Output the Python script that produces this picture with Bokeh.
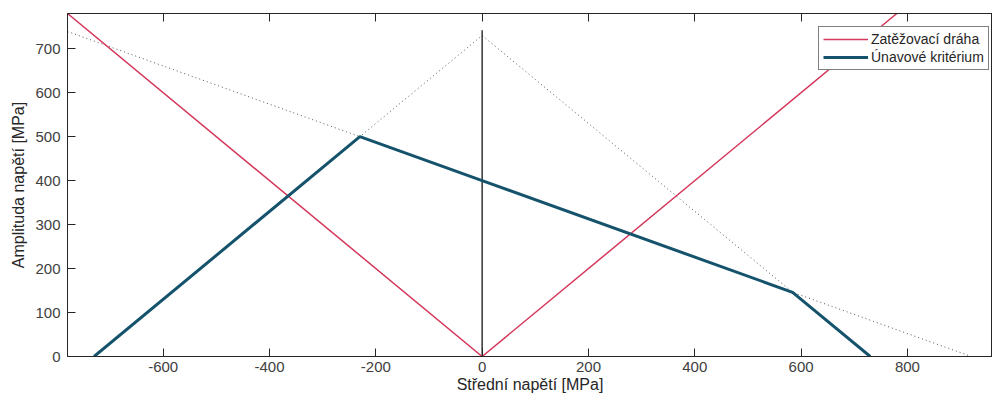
from bokeh.plotting import figure
from bokeh.models import Range1d, LinearAxis, Legend, LegendItem, FixedTicker, CustomJSTickFormatter
from bokeh.embed import file_html
from bokeh.resources import INLINE

# Data
load_x = [-780, 0, 780]
load_y = [780, 0, 780]
crit_x = [-730, -230, 0, 584, 730]
crit_y = [0, 500, 400, 146, 0]
goodman_x = [-780, 920]
goodman_y = [739, 0]
yield_x = [-730, 0, 730]
yield_y = [0, 730, 0]
vert_x = [0, 0]
vert_y = [0, 742]
x_ticks = [-600, -400, -200, 0, 200, 400, 600, 800]
y_ticks = [0, 100, 200, 300, 400, 500, 600, 700]

FONT = "Liberation Sans"
RED = "#d4385c"
BLUE = "#14536b"
p = figure(width=992, height=403, output_backend="svg", toolbar_location=None,
           x_range=Range1d(-780, 960), y_range=Range1d(0, 780),
           min_border_left=67, min_border_right=0, min_border_top=13, min_border_bottom=47)
p.xgrid.visible = False
p.ygrid.visible = False
p.outline_line_color = "#262626"
p.outline_line_width = 1
p.background_fill_color = "white"
p.border_fill_color = "white"

for ax, ticks in ((p.xaxis[0], x_ticks), (p.yaxis[0], y_ticks)):
    ax.ticker = FixedTicker(ticks=ticks)
    ax.formatter = CustomJSTickFormatter(code="return tick.toString()")
    ax.major_tick_in = 8
    ax.major_tick_out = 0
    ax.minor_tick_line_color = None
    ax.axis_line_color = "#262626"
    ax.major_tick_line_color = "#262626"
    ax.major_label_text_font = FONT
    ax.major_label_text_font_size = "15px"
    ax.major_label_text_color = "#404040"
    ax.axis_label_text_font = FONT
    ax.axis_label_text_font_size = "16px"
    ax.axis_label_text_font_style = "normal"
    ax.axis_label_text_color = "#262626"

p.xaxis[0].axis_label = "Střední napětí [MPa]"
p.xaxis[0].axis_label_standoff = 1
p.xaxis[0].major_label_standoff = 5
p.yaxis[0].axis_label = "Amplituda napětí [MPa]"
p.yaxis[0].axis_label_standoff = 5
p.yaxis[0].major_label_standoff = 7

top = LinearAxis(ticker=FixedTicker(ticks=x_ticks), major_tick_in=8, major_tick_out=0,
                 minor_tick_line_color=None, axis_line_color="#262626",
                 major_tick_line_color="#262626", major_label_text_font_size="0px",
                 major_label_standoff=0,
                 formatter=CustomJSTickFormatter(code="return ''"))
p.add_layout(top, "above")

p.line(goodman_x, goodman_y, line_color="#555555", line_width=1, line_dash="1 3")
p.line(yield_x, yield_y, line_color="#555555", line_width=1, line_dash="1 3")
p.line(vert_x, vert_y, line_color="#333333", line_width=1.5)
r_load = p.line(load_x, load_y, line_color=RED, line_width=1.5)
r_crit = p.line(crit_x, crit_y, line_color=BLUE, line_width=3)

legend = Legend(items=[LegendItem(label="Zatěžovací dráha", renderers=[r_load]),
                       LegendItem(label="Únavové kritérium", renderers=[r_crit])],
                location=(751, 286), border_line_color="black", border_line_width=1,
                background_fill_color="white", background_fill_alpha=1,
                label_text_font=FONT, label_text_font_size="14px", label_text_color="#262626",
                glyph_width=45, glyph_height=16, label_height=16, label_standoff=3,
                padding=4, spacing=2, margin=0)
p.add_layout(legend, "center")

open("out.html", "w").write(file_html(p, INLINE))
